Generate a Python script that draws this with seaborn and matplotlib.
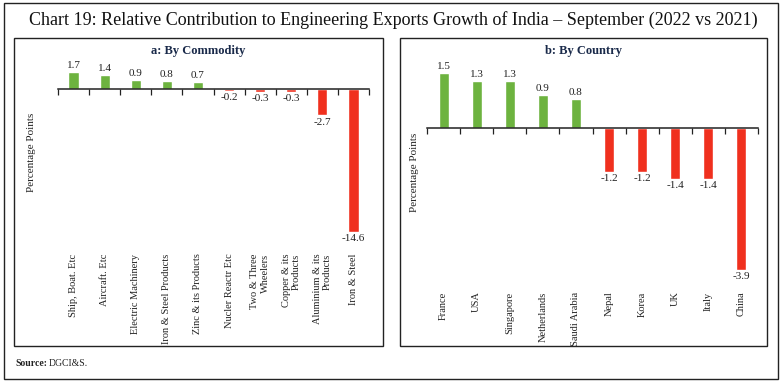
import matplotlib
matplotlib.use('Agg')
import matplotlib.pyplot as plt
import seaborn as sns
import pandas as pd
import numpy as np
from matplotlib.patches import Rectangle
from matplotlib.ticker import FixedLocator

# 数据
commodities = ['Ship, Boat. Etc', 'Aircraft. Etc', 'Electric Machinery', 'Iron & Steel Products',
               'Zinc & its Products', 'Nucler Reactr Etc', 'Two & Three\nWheelers',
               'Copper & its\nProducts', 'Aluminium & its\nProducts', 'Iron & Steel']
commodity_vals = [1.7, 1.4, 0.9, 0.8, 0.7, -0.2, -0.3, -0.3, -2.7, -14.6]

countries = ['France', 'USA', 'Singapore', 'Netherlands', 'Saudi Arabia',
             'Nepal', 'Korea', 'UK', 'Italy', 'China']
country_vals = [1.5, 1.3, 1.3, 0.9, 0.8, -1.2, -1.2, -1.4, -1.4, -3.9]

GREEN = '#6db33f'
RED = '#f0301e'
DARK = '#1a2a4a'

sns.set_theme(style='white')
plt.rcParams['font.family'] = ['Liberation Serif', 'DejaVu Serif']

W, H = 783, 384
fig = plt.figure(figsize=(W / 100, H / 100), dpi=100)


def px_rect(x0, y0, x1, y1, lw):
    fig.patches.append(Rectangle((x0 / W, 1 - y1 / H), (x1 - x0) / W, (y1 - y0) / H,
                                 transform=fig.transFigure, fill=False,
                                 edgecolor='#222222', linewidth=lw))


# 外框和面板框
px_rect(4, 3, 778, 379, 1.0)
px_rect(14, 38, 383, 346, 1.0)
px_rect(400, 38, 767, 346, 1.0)


def draw_panel(ax, cats, vals, ylim, width, ylab_x):
    df = pd.DataFrame({'cat': cats, 'val': vals})
    df['sign'] = np.where(df['val'] >= 0, 'pos', 'neg')
    sns.barplot(data=df, x='cat', y='val', hue='sign', palette={'pos': GREEN, 'neg': RED},
                dodge=False, width=width, legend=False, ax=ax, saturation=1)
    for c in ax.containers:
        ax.bar_label(c, fmt='%.1f', padding=1.5, fontsize=8, color='#222222')
    ax.set_xlim(-0.5, len(cats) - 0.5)
    ax.set_ylim(*ylim)
    for s in ['left', 'right', 'bottom']:
        ax.spines[s].set_visible(False)
    ax.spines['top'].set_position(('data', 0))
    ax.spines['top'].set_color('#222222')
    ax.spines['top'].set_linewidth(1.1)
    ax.set_yticks([])
    ax.xaxis.set_minor_locator(FixedLocator(np.arange(-0.5, len(cats), 1.0)))
    ax.tick_params(axis='x', which='major', bottom=False, top=False, labelbottom=True,
                   labelsize=7.5, pad=3, labelcolor='#222222')
    ax.tick_params(axis='x', which='minor', bottom=False, top=True, direction='in',
                   length=4, width=0.9, color='#222222')
    ax.set_xticks(range(len(cats)))
    ax.set_xticklabels(cats, rotation=90, ma='right')
    ax.set_xlabel('')
    ax.set_ylabel('Percentage Points', fontsize=8, color='#222222')
    ax.yaxis.set_label_coords(ylab_x, 0.5)


ax1 = fig.add_axes([58 / W, 1 - 241 / H, 311 / W, 178 / H])
draw_panel(ax1, commodities, commodity_vals, (-15.5, 2.65), 0.33, -0.071)

ax2 = fig.add_axes([427 / W, 1 - 279 / H, 331 / W, 214 / H])
draw_panel(ax2, countries, country_vals, (-4.15, 1.73), 0.3, -0.024)

# 标题
fig.text(393 / W, 1 - 20 / H, 'Chart 19: Relative Contribution to Engineering Exports Growth of India \u2013 September (2022 vs 2021)',
         ha='center', va='center', fontsize=13, color='#111111')
fig.text(198.5 / W, 1 - 51 / H, 'a: By Commodity', ha='center', va='center',
         fontsize=9, fontweight='bold', color=DARK)
fig.text(583.5 / W, 1 - 51 / H, 'b: By Country', ha='center', va='center',
         fontsize=9, fontweight='bold', color=DARK)

# 来源
t = fig.text(15 / W, 1 - 363 / H, 'Source:', ha='left', va='center', fontsize=7,
             fontweight='bold', color='#222222')
r = fig.canvas.get_renderer()
bb = t.get_window_extent(renderer=r)
fig.text(bb.x1 / W + 2 / W, 1 - 363 / H, 'DGCI&S.', ha='left', va='center', fontsize=7,
         color='#222222')

fig.savefig('out.png', dpi=100)
